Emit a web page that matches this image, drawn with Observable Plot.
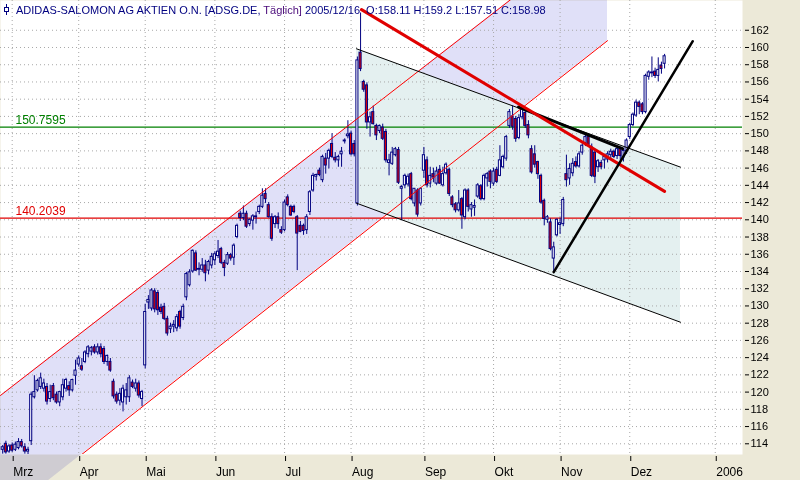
<!DOCTYPE html>
<html><head><meta charset="utf-8">
<script src="https://cdn.jsdelivr.net/npm/d3@7"></script>
<script src="https://cdn.jsdelivr.net/npm/@observablehq/plot@0.6"></script>
<style>
html,body{margin:0;padding:0;background:#ECE9D8;}
#chart{width:800px;height:480px;overflow:hidden;position:relative;background:#ECE9D8;}
</style></head><body><div id="chart"></div>
<script>
// trading-day index of the first candle (0 = 1 March 2005)
const firstIndex = -3;
const opens = [113.3,114.0,113.1,113.8,113.3,113.5,114.2,113.6,113.1,114.3,119.4,120.2,120.6,120.4,120.6,119.2,120.7,119.7,118.8,119.4,120.4,120.7,120.2,121.9,
123.2,123.0,123.5,124.4,124.7,125.2,124.6,125.2,125.0,123.5,123.5,121.2,119.7,119.0,118.8,119.4,119.4,121.1,120.4,121.0,119.2,
123.1,130.4,129.7,131.7,131.5,129.8,129.9,128.5,127.3,127.6,127.4,129.3,128.6,131.0,132.4,134.0,136.1,134.2,134.2,134.7,134.1,134.7,
135.3,135.8,136.6,135.0,134.9,135.9,135.6,138.0,140.7,140.2,140.7,139.5,139.9,140.3,140.9,141.5,143.0,141.7,140.3,139.5,140.3,138.8,
138.8,142.6,141.5,141.5,140.3,139.3,139.3,138.8,140.9,143.4,145.0,145.7,144.6,147.1,147.1,148.8,147.2,146.9,147.6,149.1,149.7,
150.0,148.8,141.9,159.4,156.0,155.6,151.3,152.5,150.9,150.3,150.7,150.2,146.6,146.5,147.5,148.1,143.6,144.0,144.1,145.3,141.9,143.4,141.9,
145.7,146.9,144.2,145.3,144.2,145.8,144.0,145.4,145.8,142.6,141.8,141.1,142.4,140.3,143.4,141.2,141.4,142.7,143.9,142.4,144.8,145.6,
144.2,145.8,145.1,146.1,147.1,150.9,152.0,151.7,149.5,151.9,152.4,151.0,148.2,147.6,146.7,145.1,142.2,140.0,139.7,135.5,138.2,
139.4,139.5,145.3,144.8,145.4,146.7,146.2,147.8,148.9,149.6,148.4,147.8,146.1,146.6,146.9,147.0,147.5,147.9,147.4,148.2,147.2,148.0,
149.6,151.0,152.1,153.6,153.4,152.5,156.6,157.0,157.2,156.7,157.9,158.11];
const highs = [113.8,114.3,113.9,114.1,114.2,114.6,114.5,114.0,113.6,120.0,121.9,121.5,122.2,121.5,121.0,120.8,121.0,120.0,120.1,121.5,121.6,121.2,121.5,123.7,
124.2,123.9,124.8,125.4,125.3,125.5,125.6,125.6,125.3,124.3,123.9,121.5,120.0,120.4,120.8,121.0,121.9,121.4,121.5,121.3,120.2,
130.2,131.2,132.0,132.0,131.8,130.2,130.3,128.8,128.0,128.3,129.0,129.5,130.2,133.9,134.2,136.5,136.4,135.0,135.5,135.3,135.3,136.1,
136.3,137.6,136.8,135.3,136.2,136.1,137.2,139.5,141.0,141.6,141.0,140.1,140.6,140.9,141.7,143.6,143.6,142.0,140.7,140.5,140.8,139.2,
142.3,142.9,141.7,141.7,140.5,139.8,139.5,140.6,143.4,145.4,145.3,146.0,147.5,147.7,148.2,150.0,147.8,147.5,148.4,149.4,151.5,
150.3,149.2,158.9,164.0,156.2,155.9,152.5,153.2,151.1,151.0,151.1,150.5,147.6,148.4,148.4,148.4,144.0,145.3,145.3,145.5,143.6,143.6,143.7,
148.4,147.3,146.1,146.0,146.1,146.3,146.1,146.6,146.0,142.8,142.0,143.4,142.6,143.6,143.6,142.0,142.3,144.2,144.1,145.3,145.5,145.8,
146.0,146.1,148.6,147.5,149.8,152.8,153.2,152.0,152.2,153.2,152.8,151.5,148.6,148.6,146.8,145.3,142.4,140.5,140.1,137.4,140.1,
140.2,142.6,147.5,146.5,147.1,147.3,147.9,148.8,149.9,150.0,148.8,148.0,147.0,146.9,147.6,147.9,148.2,148.1,148.5,148.4,148.3,149.4,
151.2,152.4,153.9,153.8,153.6,156.9,157.3,158.9,157.6,158.8,158.3,159.2];
const lows = [112.8,112.8,112.9,113.0,113.1,113.3,113.5,112.8,112.6,113.8,119.2,120.0,120.3,120.0,118.5,118.8,119.0,118.6,118.3,119.0,120.0,119.5,120.0,120.8,
122.9,122.4,123.3,124.0,124.2,124.4,124.3,124.0,123.2,123.0,122.3,119.2,118.6,118.4,117.7,118.5,118.8,120.4,120.0,119.3,118.3,
122.7,129.6,129.4,129.2,128.9,129.0,128.3,126.5,126.8,126.9,127.0,127.3,128.3,130.6,132.2,133.8,134.0,133.5,133.9,132.8,133.6,134.3,
134.7,135.5,134.8,133.4,134.7,135.2,134.7,137.8,139.8,139.9,139.0,139.2,138.8,139.5,140.6,141.3,141.9,140.2,137.5,139.0,138.9,138.3,
138.6,141.5,140.4,140.7,134.1,138.5,138.2,138.3,140.5,143.2,144.5,145.0,144.3,145.3,145.9,147.1,146.6,146.1,146.1,148.8,149.4,
147.4,147.3,141.6,157.2,154.8,150.5,149.6,151.0,149.2,150.0,149.2,146.6,145.1,146.3,147.3,144.1,139.9,143.6,143.8,142.2,141.5,140.3,141.6,
144.8,143.7,143.7,144.3,144.0,144.1,143.8,145.2,142.7,141.4,140.8,140.9,138.9,140.0,140.9,140.3,140.4,142.5,142.2,142.2,143.8,143.6,
143.9,144.2,145.0,145.9,146.8,150.6,150.4,149.0,149.3,151.6,150.6,149.4,145.3,146.0,144.7,141.8,139.3,139.6,136.4,133.9,138.0,
138.3,139.2,143.8,144.0,145.0,146.0,146.0,147.5,148.5,148.4,144.9,144.2,145.5,145.8,145.9,146.6,147.0,147.1,147.0,146.9,146.7,147.6,
149.3,150.8,151.9,152.2,152.2,152.3,156.2,156.5,156.4,156.0,156.9,157.51];
const closes = [113.6,113.0,113.7,113.2,113.9,114.2,113.7,113.1,113.3,119.7,120.0,121.3,121.6,121.0,118.9,120.0,119.3,118.8,120.0,120.8,121.4,120.2,121.4,122.5,
123.9,122.6,124.6,125.2,125.1,124.6,125.2,124.4,123.5,124.2,122.5,119.5,118.9,119.8,120.4,120.2,121.6,120.6,121.0,119.6,120.0,
129.3,130.7,131.8,129.6,129.5,129.3,128.5,126.8,127.6,127.8,128.7,127.6,129.9,133.7,133.9,136.4,134.1,134.3,134.7,133.8,135.1,135.7,
136.0,136.3,135.0,134.4,135.9,135.5,137.0,139.3,140.2,140.7,139.2,140.0,140.4,140.4,141.5,142.8,142.4,140.3,137.8,140.3,139.5,138.5,
142.0,141.7,140.5,140.9,138.4,138.6,138.7,140.3,143.2,145.1,145.2,145.2,147.3,146.3,148.0,147.3,146.9,147.3,147.9,149.2,149.9,
147.6,147.6,158.5,157.5,155.1,151.3,151.9,151.1,149.8,150.9,149.4,146.9,146.9,147.8,148.2,144.3,143.8,145.1,145.0,142.4,143.6,140.6,143.6,
147.5,144.0,145.1,144.9,145.6,144.2,145.3,146.4,143.0,141.7,141.1,141.9,140.5,143.4,141.5,141.7,141.6,144.0,142.4,145.1,145.3,144.4,
145.6,144.4,146.9,147.3,149.6,152.5,150.8,149.4,151.8,152.9,150.9,149.8,145.5,146.4,145.3,142.0,140.1,140.3,136.6,136.8,140.0,
139.6,142.3,144.6,145.9,146.5,146.2,147.6,148.6,149.6,148.7,145.1,145.0,146.8,146.1,147.3,147.6,147.9,147.3,148.2,147.4,148.0,149.2,
151.0,152.2,153.6,153.1,152.5,156.7,157.1,157.1,156.7,157.4,157.5,158.98];

// axis ticks
const monthTickIndex = [0, 21, 42, 64, 86, 107, 130, 152, 173, 195, 222];
const monthLabels = ["Mrz", "Apr", "Mai", "Jun", "Jul", "Aug", "Sep", "Okt", "Nov", "Dez", "2006"];
const priceTicks = [114,116,118,120,122,124,126,128,130,132,134,136,138,140,142,144,146,148,150,152,154,156,158,160,162];

// horizontal levels
const levelValues = [150.7595, 140.2039];
const levelLabels = ["150.7595", "140.2039"];
const levelColors = ["#008000", "#e00000"];

// drawn trend tools (trading-day index, price)
const redChannelX = [-3.69, 187.97];
const redChannelUpper = [119.61, 174.28];
const redChannelLower = [105.34, 160.79];
const blackChannelX = [108.71, 211.02];
const blackChannelUpper = [159.85, 146.11];
const blackChannelLower = [141.93, 128.11];
const redTrendX = [110.3, 206.0];
const redTrendY = [164.4, 143.3];
const blackShortX = [159.87, 192.7];
const blackShortY = [153.09, 148.25];
const supportX = [171.0, 214.9];
const supportY = [133.92, 160.73];

const titleMain = "ADIDAS-SALOMON AG AKTIEN O.N. [ADSG.DE, ";
const titlePeriod = "Täglich]";
const titleRest = " 2005/12/16  O:158.11 H:159.2 L:157.51 C:158.98";

// ---- build tables ----
const candles = opens.map((o, k) => ({i: firstIndex + k, o, h: highs[k], l: lows[k], c: closes[k]}));
const band = (xs, lo, hi) => xs.map((x, k) => ({x, lo: lo[k], hi: hi[k]}));
const pts = (xs, ys) => xs.map((x, k) => [x, ys[k]]);
const levels = levelValues.map((v, k) => ({v, label: levelLabels[k], color: levelColors[k]}));
const labelOf = new Map(monthTickIndex.map((t, k) => [t, monthLabels[k]]));

const navy = "#000080";
const font = "'Liberation Sans', Arial, sans-serif";

const svg = Plot.plot({
  width: 800, height: 480,
  marginLeft: 0, marginRight: 58, marginTop: 0, marginBottom: 26,
  style: {background: "transparent", fontFamily: font, fontSize: "11px", color: "black", overflow: "hidden"},
  x: {type: "linear", domain: [-3.694, 230.6], axis: null},
  y: {domain: [112.757, 165.455], axis: null},
  marks: [
    Plot.frame({fill: "white", stroke: null}),
    Plot.areaY(band(redChannelX, redChannelLower, redChannelUpper), {x: "x", y1: "lo", y2: "hi", fill: "#e0e0f8", mixBlendMode: "multiply"}),
    Plot.areaY(band(blackChannelX, blackChannelLower, blackChannelUpper), {x: "x", y1: "lo", y2: "hi", fill: "#e4f0f0", mixBlendMode: "multiply", clip: true}),
    Plot.gridY(priceTicks, {stroke: "#a8a8a8", strokeOpacity: 1, strokeDasharray: "1,3"}),
    Plot.gridX(monthTickIndex, {stroke: "#a8a8a8", strokeOpacity: 1, strokeDasharray: "1,3"}),
    Plot.ruleY(levels, {y: "v", stroke: "color", strokeWidth: 1.2}),
    Plot.text(levels, {y: "v", frameAnchor: "left", dx: 15, dy: -3, lineAnchor: "bottom", textAnchor: "start", text: "label", fill: "color", fontSize: 12}),
    Plot.ruleX(candles, {x: "i", y1: "l", y2: "h", stroke: navy, strokeWidth: 1, clip: true}),
    Plot.rect(candles, {
      x1: d => d.i - 0.33, x2: d => d.i + 0.33,
      y1: d => Math.min(d.o, d.c), y2: d => Math.max(d.o, d.c) + (d.o === d.c ? 0.03 : 0),
      fill: d => d.c >= d.o ? "#ffffff" : "#e00000", stroke: navy, strokeWidth: 1, clip: true
    }),
    Plot.line(pts(redChannelX, redChannelUpper), {stroke: "#ff0000", strokeWidth: 1, clip: true}),
    Plot.line(pts(redChannelX, redChannelLower), {stroke: "#ff0000", strokeWidth: 1, clip: true}),
    Plot.line(pts(blackChannelX, blackChannelUpper), {stroke: "#000000", strokeWidth: 1, clip: true}),
    Plot.line(pts(blackChannelX, blackChannelLower), {stroke: "#000000", strokeWidth: 1, clip: true}),
    Plot.line(pts(blackShortX, blackShortY), {stroke: "#000000", strokeWidth: 3, clip: true}),
    Plot.line(pts(redTrendX, redTrendY), {stroke: "#e00000", strokeWidth: 3, clip: true}),
    Plot.line(pts(supportX, supportY), {stroke: "#000000", strokeWidth: 2.5, clip: true}),
    Plot.axisY(priceTicks, {anchor: "right", tickSize: 4, tickPadding: 2, dx: 2, fontSize: 11, tickFormat: d => String(d)}),
    Plot.axisX(monthTickIndex, {anchor: "bottom", tickSize: 5, tickPadding: 5.5, dy: 2, textAnchor: "start", dx: 1, fontSize: 12, tickFormat: d => labelOf.get(d)})
  ]
});

document.getElementById("chart").appendChild(svg);

// title line (inside the plot, top left) with small candle icon
const s = d3.select(svg);
const icon = s.append("g").attr("stroke", navy).attr("fill", "none");
icon.append("line").attr("x1", 6.5).attr("x2", 6.5).attr("y1", 4).attr("y2", 15);
icon.append("rect").attr("x", 4.5).attr("y", 7.5).attr("width", 4).attr("height", 4).attr("fill", "white");
const t = s.append("text").attr("x", 16).attr("y", 14).attr("text-anchor", "start")
  .style("font-family", font).style("font-size", "11px").style("white-space", "pre").attr("fill", navy);
t.append("tspan").text(titleMain);
t.append("tspan").attr("fill", "#4a0a7a").text(titlePeriod);
t.append("tspan").text(titleRest);
</script></body></html>
